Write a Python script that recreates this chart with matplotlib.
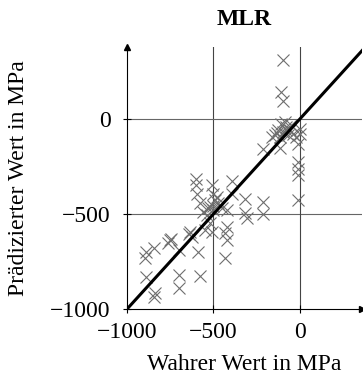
import matplotlib
matplotlib.use('Agg')
from matplotlib import pyplot as plt
import numpy as np

plt.rcParams['font.family'] = ['Liberation Serif', 'DejaVu Serif']
plt.rcParams['axes.unicode_minus'] = True

title = 'MLR'
xlabel = 'Wahrer Wert in MPa'
ylabel = 'Prädizierter Wert in MPa'
ticks = [-1000, -500, 0]
tick_labels = ['\u22121000', '\u2212500', '0']

# true values (x) and predicted values (y)
true_vals = [-96, -111, -96, -106, -77, -144, -115, -58, -38, -19, -10, -96, -67,
             -125, -163, -87, 0, 0, -50, -80, -130, -212, -115, -10, -10, -10, -10,
             -600, -600, -596, -510, -504, -394, -394, -317, -308, -317, -212, -212,
             -490, -471, -519, -558, -538, -452, -423, -500, -577, -481, -505, -530,
             -519, -510, -423, -433, -423, -433, -548,
             -635, -625, -640, -750, -760, -745, -587, -702, -846, -888, -894,
             -888, -837, -846, -702, -702, -577]
pred_vals = [311, 142, 98, -24, -42, -86, -94, -59, -77, -94, -129, -68, -86,
             -59, -94, -16, -51, -77, -30, -55, -75, -156, -150, -226, -260, -295, -427,
             -313, -348, -392, -348, -392, -325, -392, -418, -523, -493, -435, -497,
             -427, -444, -462, -488, -505, -470, -479, -479, -444, -409, -455, -470,
             -549, -593, -566, -601, -636, -733, -584,
             -593, -619, -605, -636, -654, -630, -698, -689, -680, -698, -733,
             -829, -916, -934, -820, -890, -825]

fig = plt.figure(figsize=(3.63, 3.82), dpi=100)
ax = fig.add_axes([0.35, 0.191, 0.647, 0.686])

ax.set_xlim(-1000, 360)
ax.set_ylim(-1000, 380)

# grid lines
for t in [-500, 0]:
    ax.axvline(t, color='#444444', lw=0.8, zorder=1)
    ax.axhline(t, color='#666666', lw=0.8, zorder=1)

ax.plot(true_vals, pred_vals, 'x', color='#6e6e6e', ms=8, mew=0.8, zorder=2)
ax.plot([-1000, 400], [-1000, 400], color='black', lw=2.2, zorder=3)

ax.spines['top'].set_visible(False)
ax.spines['right'].set_visible(False)
for s in ['left', 'bottom']:
    ax.spines[s].set_linewidth(0.8)
ax.plot(1, 0, '>k', ms=4, transform=ax.transAxes, clip_on=False)
ax.plot(0, 1, '^k', ms=4, transform=ax.transAxes, clip_on=False)

ax.set_xticks(ticks)
ax.set_yticks(ticks)
ax.set_xticklabels(tick_labels)
ax.set_yticklabels(tick_labels)
ax.tick_params(direction='inout', length=6, width=0.8, labelsize=17)
ax.tick_params(axis='x', pad=6)
ax.tick_params(axis='y', pad=9)

ax.set_title(title, fontsize=17, fontweight='bold', pad=16)
ax.set_xlabel(xlabel, fontsize=17, labelpad=8)
ax.set_ylabel(ylabel, fontsize=17, labelpad=15)

fig.savefig('out.png', dpi=100)
